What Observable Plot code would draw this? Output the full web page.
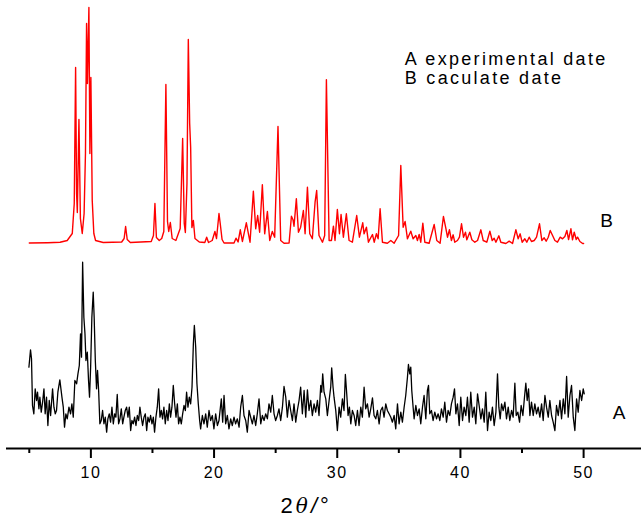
<!DOCTYPE html>
<html><head><meta charset="utf-8">
<script src="https://cdn.jsdelivr.net/npm/d3@7"></script>
<script src="https://cdn.jsdelivr.net/npm/@observablehq/plot@0.6"></script>
<style>body{margin:0;background:#fff} svg{display:block}</style>
</head><body><div id="chart"></div>
<script>
// Experimental pattern A: [2θ, intensity]
const expA = [
[4.97,81.3],[5.10,98.7],[5.18,89.7],[5.26,43],[5.37,34.7],[5.48,59.7],[5.59,48],[5.67,56.3],[5.78,39.7],[5.86,51.3],[5.97,36.3],[6.08,46.3],[6.19,59.7],[6.29,34.7],[6.40,51.3],[6.51,23],[6.62,48],[6.73,33],[6.89,59.7],[7.00,41.3],[7.11,34.7],[7.21,38],[7.32,56.3],[7.48,68.7],[7.65,51.3],[7.76,41.3],[7.86,21.3],[7.97,34.7],[8.08,29.7],[8.22,41.3],[8.35,34.7],[8.46,44.7],[8.57,31.3],[8.70,68],[8.84,64.7],[8.95,74.7],[9.06,83],[9.16,114.7],[9.24,91.3],[9.33,186.3],[9.43,131.3],[9.52,114.7],[9.60,88],[9.71,96.3],[9.81,68],[9.89,51.3],[9.98,81.3],[10.08,131.3],[10.19,156.3],[10.27,129.7],[10.36,88],[10.46,59.7],[10.54,78],[10.63,58],[10.73,24.7],[10.84,28],[10.95,38],[11.06,24.7],[11.17,31.3],[11.28,16.3],[11.38,29.7],[11.49,34.7],[11.60,26.3],[11.71,41.3],[11.82,24.7],[11.93,34.7],[12.03,31.3],[12.14,54],[12.25,24.7],[12.36,29.7],[12.47,39.7],[12.58,24.7],[12.68,31.3],[12.79,38],[12.90,41.3],[13.01,31.3],[13.12,41.3],[13.23,18],[13.33,28],[13.44,24.7],[13.55,31.3],[13.66,23],[13.77,33],[13.88,28],[13.98,41.3],[14.09,31.3],[14.20,23],[14.31,31.3],[14.42,34.7],[14.53,18],[14.63,31.3],[14.74,26.3],[14.85,33],[14.96,24.7],[15.07,31.3],[15.17,16.3],[15.28,31.3],[15.39,41.3],[15.50,59.7],[15.61,31.3],[15.72,38],[15.82,29.7],[15.93,41.3],[16.04,24.7],[16.15,38],[16.26,28],[16.37,44.7],[16.47,31.3],[16.58,41.3],[16.69,63],[16.80,44.7],[16.91,31.3],[17.02,44.7],[17.12,24.7],[17.23,31.3],[17.34,24.7],[17.45,34.7],[17.56,43],[17.67,38],[17.77,56.3],[17.88,41.3],[17.99,51.3],[18.10,44.7],[18.21,61.3],[18.32,104.7],[18.40,123],[18.51,101.3],[18.61,64.7],[18.72,44.7],[18.83,28],
[18.91,19.7],[19.05,33],[19.18,24.7],[19.32,34.7],[19.45,21.3],[19.59,38],[19.72,28],[19.86,33],[19.99,19.7],[20.13,34.7],[20.27,23],[20.40,28],[20.59,49.7],[20.70,26.3],[20.81,53],[20.94,24.7],[21.08,33],[21.21,19.7],[21.35,29.7],[21.48,23],[21.62,31.3],[21.75,24.7],[21.89,29.7],[22.03,21.3],[22.16,41.3],[22.30,53],[22.43,33],[22.57,28],[22.70,16.3],[22.84,38],[22.97,31.3],[23.11,24.7],[23.24,33],[23.38,23],[23.51,34.7],[23.65,49.7],[23.79,24.7],[23.92,33],[24.06,28],[24.19,34.7],[24.33,29.7],[24.46,44.7],[24.60,36.3],[24.73,53],[24.87,34.7],[25.00,28],[25.14,33],[25.27,39.7],[25.41,28],[25.55,41.3],[25.68,62],[25.82,51.3],[25.95,31.3],[26.09,48],[26.22,38],[26.36,28],[26.49,44.7],[26.63,26.3],[26.76,38],[26.90,48],[27.03,61.3],[27.17,34.7],[27.31,58],[27.44,31.3],[27.58,58.7],[27.71,38],[27.85,48],[27.98,33],[28.12,44.7],[28.25,36.3],[28.39,48],[28.52,33],[28.66,63],[28.74,56.3],[28.82,74.7],[28.93,56.3],[29.07,49.7],[29.20,33],[29.34,48],[29.47,61.3],[29.55,80.7],[29.66,61.3],[29.74,51.3],[29.88,38],[30.01,18],[30.15,41.3],[30.28,31.3],[30.42,49.7],[30.55,38],[30.66,74],[30.77,54.7],[30.88,33],[30.99,41.3],[31.10,24.7],[31.23,38],[31.37,33],[31.50,23],[31.64,38],[31.77,23],[31.91,41.3],[32.04,31.3],[32.18,61.3],[32.31,39.7],[32.45,44.7],[32.59,31.3],[32.72,39.7],[32.86,50.7],[32.99,33],[33.13,29.7],[33.26,38],[33.40,24.7],[33.53,38],[33.67,41.3],[33.80,31.3],[33.94,44.7],[34.07,38],[34.21,34.7],
[34.35,31.3],[34.48,26.3],[34.62,33],[34.75,19.7],[34.89,44.7],[35.02,24.7],[35.16,36.3],[35.29,26.3],[35.43,41.3],[35.56,53],[35.70,71.3],[35.78,84],[35.89,74.7],[35.97,81.3],[36.05,58],[36.16,41.3],[36.24,29.7],[36.38,43],[36.51,33],[36.65,39.7],[36.78,24.7],[36.92,41.3],[37.05,53],[37.19,29.7],[37.32,58],[37.41,63],[37.51,34.7],[37.65,38],[37.78,28],[37.92,36.3],[38.06,29.7],[38.19,34.7],[38.33,28],[38.46,39.7],[38.60,31.3],[38.73,46.3],[38.87,26.3],[39.00,38],[39.14,33],[39.27,44.7],[39.41,51.3],[39.52,59.7],[39.63,34.7],[39.76,44.7],[39.90,23],[40.03,51.3],[40.17,28],[40.30,41.3],[40.44,33],[40.57,51.3],[40.71,26.3],[40.84,56.3],[40.98,31.3],[41.12,41.3],[41.25,24.7],[41.39,54.7],[41.52,43],[41.66,29.7],[41.79,39.7],[41.93,26.3],[42.06,56.3],[42.20,18],[42.33,36.3],[42.47,28],[42.60,41.3],[42.74,23],[42.88,36.3],[43.01,74.7],[43.12,41.3],[43.23,29.7],[43.34,44.7],[43.47,38],[43.61,46.3],[43.74,29.7],[43.88,41.3],[44.01,28],[44.15,38],[44.28,31.3],[44.42,65.3],[44.53,33],[44.66,36.3],[44.80,26.3],[44.93,43],[45.07,33],[45.20,51.3],[45.31,65.3],[45.42,48],[45.53,59.7],[45.64,33],[45.77,46.3],[45.91,33],[46.04,44.7],[46.18,34.7],[46.31,41.3],[46.45,31.3],[46.59,44.7],[46.72,28],[46.86,53],[46.99,41.3],[47.13,31.3],[47.26,48],[47.40,33],[47.53,26.3],[47.67,18],[47.80,43],[47.94,33],[48.08,48],[48.21,29.7],[48.35,49.7],[48.48,34.7],[48.62,72],[48.75,31.3],[48.89,53],[49.02,63],[49.16,31.3],[49.29,18],[49.43,49.7],[49.56,36.3],[49.70,58],[49.84,48],[49.97,59.7],[50.05,54.7]
];

// Calculated pattern B: [2θ, intensity]
const calcB = [
[5.0,0.5],[6.5,0.8],[7.5,1.2],[8.08,3],[8.49,10],[8.65,40],[8.76,176],[8.84,50],[8.90,31],[9.03,124],[9.15,25],[9.30,10],[9.45,30],[9.56,90],[9.65,220],[9.72,160],[9.84,236],[9.92,90],[10.0,166],[10.11,43],[10.24,10],[10.38,3],[11.0,1],
[12.5,1.5],[12.7,5],[12.82,17],[12.95,4],[13.2,1],
[14.9,2],[15.08,8],[15.2,40],[15.32,6],[15.55,3],[15.75,5],[15.92,12],[16.09,159],[16.22,22],[16.32,12],[16.45,21],[16.6,5],[16.9,3],[17.25,15],[17.45,105],[17.58,20],[17.67,11],[17.8,60],[17.91,204],[18.02,120],[18.1,96],[18.2,16],[18.32,23],[18.45,5],[18.8,1.5],
[19.25,1],[19.4,6.3],[19.55,1],[19.85,3],[20.07,12],[20.2,5],[20.4,30],[20.5,20],[20.65,4],[20.81,0.5],[21.62,0.5],[21.78,5.3],[21.95,1.5],[22.13,13.7],[22.3,2],[22.62,20.7],[22.92,1.3],[23.19,52.3],[23.38,14.7],[23.54,28],[23.70,11.3],[23.92,58.7],[24.11,9.7],[24.33,32],[24.52,3],[24.73,12],[24.92,6.3],[25.19,117],[25.41,3],[25.68,0.3],[26.09,0.5],[26.28,27.3],[26.41,23.7],[26.49,17.3],[26.68,44.7],[26.85,11.3],[27.03,16.3],[27.25,33],[27.39,9.7],[27.58,56.3],[27.77,9.7],[27.98,4.7],[28.20,41.3],[28.33,53],[28.52,8],[28.80,1.3],[28.98,8],[29.12,163.7],[29.34,3],[29.53,3],[29.69,17.3],[29.82,3],[30.01,34],[30.18,9.7],[30.31,29],[30.50,6.3],[30.74,29.7],[30.96,3],[31.23,1.3],[31.58,28],[31.80,6.3],[32.07,20.7],[32.18,9.7],[32.37,16.3],[32.53,1.3],[32.86,9],[33.0,1.3],[33.18,9.7],[33.32,4.7],[33.48,34.7],[33.67,1.3],[34.07,0.3],[34.35,3],[34.62,0.3],[34.98,8],[35.16,78],[35.35,16.3],[35.51,22],[35.70,4.7],[35.97,12.3],[36.16,4.7],[36.38,8],[36.51,3],[36.65,9],[36.78,1.3],[36.95,20.3],[37.11,1.3],[37.46,0.3],[37.87,19],[38.08,3],[38.35,0.3],[38.62,27],[38.81,15.7],[38.95,6.3],[39.11,13.7],[39.27,3],[39.41,8.7],[39.54,1.3],[39.76,3],[39.92,6.3],[40.09,19.7],[40.25,6.3],[40.41,11.3],[40.52,3.7],[40.76,11.3],[40.93,3.7],[41.17,1.3],[41.39,3],[41.66,13.7],[41.85,3],[42.14,1.3],[42.39,12.3],[42.58,3],[42.74,5.3],[42.88,1.3],[43.12,7.7],[43.28,1.3],[43.69,0],[43.96,2.3],[44.23,0],[44.50,13.7],[44.69,4.7],[44.85,9.7],[45.01,1.3],[45.23,4.7],[45.39,1.3],[45.58,6.3],[45.77,2],[45.99,3],[46.18,6.3],[46.42,19.7],[46.61,3],[46.80,5.7],[46.96,2.3],[47.13,6.3],[47.29,13],[47.48,8],[47.67,3],[47.88,1.3],[48.10,6.3],[48.29,4.7],[48.48,7],[48.64,13],[48.78,4],[48.97,14.7],[49.10,3.7],[49.24,11.3],[49.40,4],[49.51,6.3],[49.70,2],[49.92,0],[50.0,0]
];

const offsetB = 205;               // vertical stacking offset of pattern B
const majorTicks = [10, 20, 30, 40, 50];
const minorTicks = [5, 15, 25, 35, 45];
const curveLabels = [{x: 51.35, y: 221.3, text: "B"}, {x: 52.36, y: 29.7, text: "A"}];
const legendLines = [{x: 35.48, y: 383.7, text: "A experimental date"}, {x: 35.48, y: 364.7, text: "B caculate date"}];
const xTitle = [{x: 25.4, y: -64.3, text: "2θ/°"}];

const chart = Plot.plot({
  width: 641, height: 522,
  marginLeft: 6, marginRight: 0, marginTop: 0, marginBottom: 74,
  style: {fontFamily: "'Liberation Sans', Arial, sans-serif", background: "#fff", color: "#000", overflow: "visible"},
  x: {domain: [3.15, 54.7]},
  y: {domain: [0, 448], axis: null},
  marks: [
    Plot.line(calcB, {x: d => d[0], y: d => d[1] + offsetB, stroke: "#ff0000", strokeWidth: 1.4}),
    Plot.line(expA, {x: d => d[0], y: d => d[1], stroke: "#000", strokeWidth: 1.3}),
    Plot.ruleY([0], {stroke: "#000", strokeWidth: 2}),
    Plot.axisX({ticks: majorTicks, tickSize: 10, tickPadding: 8, fontSize: 16, strokeWidth: 2, label: null}),
    Plot.axisX({ticks: minorTicks, tickSize: 5, tickFormat: () => "", strokeWidth: 2, label: null}),
    Plot.text(curveLabels, {x: "x", y: "y", text: "text", textAnchor: "start", lineAnchor: "bottom", fontSize: 19, fill: "#000"}),
    Plot.text(legendLines, {x: "x", y: "y", text: "text", textAnchor: "start", lineAnchor: "bottom", fontSize: 18, fill: "#000"}),
    Plot.text(xTitle, {x: "x", y: "y", text: "text", textAnchor: "start", lineAnchor: "bottom", fontSize: 22, fill: "#000"})
  ]
});
document.getElementById("chart").appendChild(chart);

const svg = d3.select(chart);
svg.selectAll('g[aria-label="x-axis tick label"] text').style("letter-spacing", "1.5px");
svg.selectAll('g[aria-label="text"] text').style("letter-spacing", "2.3px");
// style the axis title: italic theta
svg.selectAll('g[aria-label="text"] text').filter(function() { return this.textContent === "2θ/°"; })
  .each(function() {
    const t = d3.select(this);
    t.text(null).style("letter-spacing", "3px");
    t.append("tspan").text("2");
    t.append("tspan").style("font-style", "italic").style("font-family", "'DejaVu Serif', serif").style("font-size", "20px").text("θ");
    t.append("tspan").style("font-style", "italic").text("/");
    t.append("tspan").text("°");
  });
</script>
</body></html>
